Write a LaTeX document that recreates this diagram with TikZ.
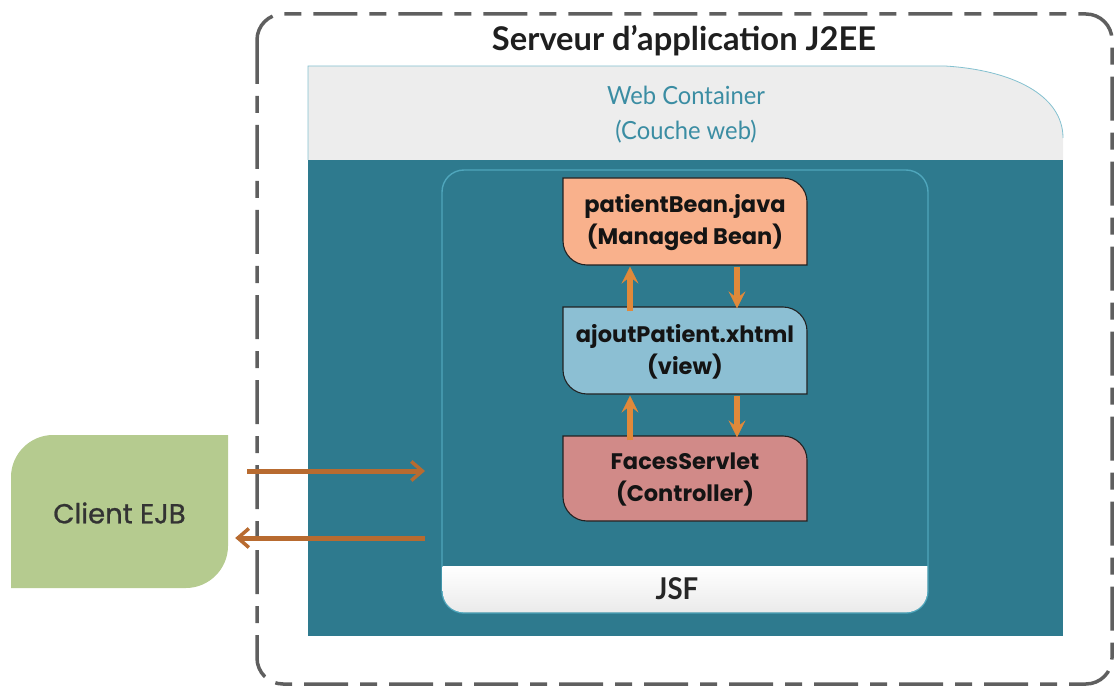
\documentclass[tikz,border=0pt]{standalone}
\usepackage{fontspec}
\setmainfont{Lato}
\newfontfamily\gothic{Poppins}
\newfontfamily\gothicmed{Poppins}[FakeBold=0.9]
\usetikzlibrary{arrows.meta,calc}

\definecolor{webteal}{RGB}{46,122,142}
\definecolor{webhead}{RGB}{237,237,237}
\definecolor{webink}{RGB}{59,141,163}
\definecolor{jsfedge}{RGB}{79,166,188}
\definecolor{beanfill}{RGB}{249,177,140}
\definecolor{viewfill}{RGB}{140,191,211}
\definecolor{ctrlfill}{RGB}{209,138,136}
\definecolor{clientfill}{RGB}{181,203,143}
\definecolor{flowcol}{RGB}{224,137,58}
\definecolor{callcol}{RGB}{184,107,48}
\definecolor{framegray}{RGB}{95,95,95}
\definecolor{boxline}{RGB}{34,34,34}

% leaf-shaped box: rounded top-right and bottom-left corners
\newcommand\leafbox[6]{%
  \path[fill=#5,draw=boxline,line width=1.1pt]
    (#1,#2) -- ({#3-#6},#2)
    .. controls ({#3-0.45*#6},#2) and (#3,{#2+0.45*#6}) .. (#3,{#2+#6})
    -- (#3,#4) -- ({#1+#6},#4)
    .. controls ({#1+0.45*#6},#4) and (#1,{#4-0.45*#6}) .. (#1,{#4-#6})
    -- cycle;}

\begin{document}
\begin{tikzpicture}[x=1pt,y=-1pt,
  comptext/.style={minimum width=244pt,minimum height=87pt,inner sep=0pt,
    align=center,text=black!92,font=\gothic\bfseries\fontsize{22.5}{32}\selectfont},
  flow/.style={draw=flowcol,fill=flowcol,line width=5.5pt,
    -{Stealth[length=17pt,width=17pt,inset=7pt,line width=0.5pt]}},
  call/.style={draw=callcol,line width=5pt,-{Straight Barb[length=11pt,width=19pt,line width=3.5pt]}},
  frame/.style={draw=framegray,line width=3.5pt,rounded corners=26pt,
    dash pattern=on 44pt off 12pt on 17pt off 12pt}]
\useasboundingbox (0,0) rectangle (1114,687);

% application server frame
\draw[frame] (257,14) rectangle (1112,684);
\node[font=\bfseries\fontsize{30}{30}\selectfont,text=black!88] (server) at (684,41)
  {\resizebox{384pt}{!}{Serveur d'application J2EE}};

% web container
\path[fill=webhead] (308,160) -- (308,66) -- (945,66)
  .. controls (1012,70) and (1063,95) .. (1063,138) -- (1063,160) -- cycle;
\draw[jsfedge!70,line width=0.8pt] (308,160) -- (308,66) -- (945,66)
  .. controls (1012,70) and (1063,95) .. (1063,138);
\fill[webteal] (308,160) rectangle (1063,636);
\node[align=center,text=webink,font=\fontsize{25}{35}\selectfont] (web) at (686,115)
  {\scalebox{0.95}[1]{Web Container}\\\scalebox{0.95}[1]{(Couche web)}};

% JSF container
\draw[jsfedge,line width=1.4pt,rounded corners=22pt] (442,170) rectangle (928,613);
\shade[top color=white,bottom color=black!8]
  (442.7,566) -- (927.3,566) -- (927.3,591)
  .. controls (927.3,603) and (918,612.3) .. (906,612.3) -- (464,612.3)
  .. controls (452,612.3) and (442.7,603) .. (442.7,591) -- cycle;
\node[font=\bfseries\fontsize{30}{30}\selectfont,text=black!85] (jsf) at (677,589)
  {\scalebox{0.92}[1]{JSF}};

% MVC components
\leafbox{563}{178}{807}{265}{beanfill}{24}
\leafbox{563}{307}{807}{394}{viewfill}{24}
\leafbox{563}{436}{807}{521}{ctrlfill}{24}
\node[comptext] (bean) at (685,223) {patientBean.java\\(Managed Bean)};
\node[comptext] (view) at (685,352) {ajoutPatient.xhtml\\(view)};
\node[comptext,minimum height=85pt] (ctrl) at (685,480) {FacesServlet\\(Controller)};

\draw[flow] ([xshift=-55pt,yshift=-3pt]view.north) -- ([xshift=-55pt]bean.south);
\draw[flow] ([xshift=52pt]bean.south) -- ([xshift=52pt]view.north);
\draw[flow] ([xshift=-55pt,yshift=-3pt]ctrl.north) -- ([xshift=-55pt]view.south);
\draw[flow] ([xshift=52pt]view.south) -- ([xshift=52pt]ctrl.north);

% EJB client
\path[fill=clientfill] (11,588) -- (11,477)
  .. controls (11,454) and (30,435) .. (53,435) -- (228,435) -- (228,546)
  .. controls (228,569) and (209,588) .. (186,588) -- cycle;
\node[minimum width=217pt,minimum height=153pt,inner sep=0pt,
  font=\gothicmed\fontsize{27.5}{27.5}\selectfont,text=black!80] (client) at (119.5,513)
  {Client EJB};

\coordinate (reqEnd) at (425,471);
\coordinate (respStart) at (425,538);
\draw[call] ($(client.east |- reqEnd)+(19,0)$) -- (reqEnd);
\draw[call] (respStart) -- ($(client.east |- respStart)+(7,0)$);
\end{tikzpicture}
\end{document}
